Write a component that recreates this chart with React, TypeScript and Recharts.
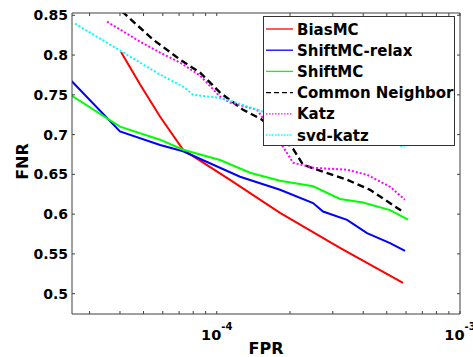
import React from 'react';
import { LineChart, Line, XAxis, YAxis, Legend } from 'recharts';

// ---- axes ----
const xDomain = [2.54e-5, 1e-3];
const yDomain = [0.4744, 0.8529];
const xMajorTicks = [1e-4, 1e-3];
const xMajorExponents = ['-4', '-3'];
const xAllTicks = [3e-5, 4e-5, 5e-5, 6e-5, 7e-5, 8e-5, 9e-5, 1e-4, 2e-4, 3e-4, 4e-4, 5e-4, 6e-4, 7e-4, 8e-4, 9e-4, 1e-3];
const yTicks = [0.5, 0.55, 0.6, 0.65, 0.7, 0.75, 0.8, 0.85];
const yTickLabels = ['0.5', '0.55', '0.6', '0.65', '0.7', '0.75', '0.8', '0.85'];
const xLabel = 'FPR';
const yLabel = 'FNR';

// ---- series (x = FPR, y = FNR) ----
const biasMC = [
  { x: 4.04e-5, y: 0.804 }, { x: 4.84e-5, y: 0.763 }, { x: 5.85e-5, y: 0.7225 },
  { x: 7.27e-5, y: 0.681 }, { x: 1.134e-4, y: 0.643 }, { x: 1.82e-4, y: 0.6016 },
  { x: 3.21e-4, y: 0.5576 }, { x: 5.83e-4, y: 0.5135 },
];
const shiftMCRelax = [
  { x: 2.5e-5, y: 0.769 }, { x: 4.0e-5, y: 0.704 }, { x: 5.85e-5, y: 0.687 },
  { x: 7.27e-5, y: 0.679 }, { x: 1.247e-4, y: 0.647 }, { x: 1.82e-4, y: 0.6306 },
  { x: 2.488e-4, y: 0.6139 }, { x: 2.735e-4, y: 0.6033 }, { x: 3.433e-4, y: 0.5928 },
  { x: 4.148e-4, y: 0.5761 }, { x: 5.158e-4, y: 0.5635 }, { x: 5.943e-4, y: 0.5538 },
];
const shiftMC = [
  { x: 2.5e-5, y: 0.75 }, { x: 4.0e-5, y: 0.71 }, { x: 5.85e-5, y: 0.6936 },
  { x: 7.27e-5, y: 0.681 }, { x: 1.032e-4, y: 0.668 }, { x: 1.37e-4, y: 0.652 },
  { x: 1.82e-4, y: 0.642 }, { x: 2.488e-4, y: 0.635 }, { x: 3.213e-4, y: 0.619 },
  { x: 3.99e-4, y: 0.6147 }, { x: 5.158e-4, y: 0.605 }, { x: 6.113e-4, y: 0.593 },
];
const commonNeighbor = [
  { x: 4.08e-5, y: 0.8548 }, { x: 5.47e-5, y: 0.8195 }, { x: 7.07e-5, y: 0.7943 },
  { x: 8.54e-5, y: 0.7779 }, { x: 1.032e-4, y: 0.7528 }, { x: 1.282e-4, y: 0.7313 },
  { x: 1.535e-4, y: 0.7188 }, { x: 2.059e-4, y: 0.6822 }, { x: 2.263e-4, y: 0.6621 },
  { x: 2.735e-4, y: 0.6533 }, { x: 3.433e-4, y: 0.6432 }, { x: 4.267e-4, y: 0.6306 },
  { x: 5.833e-4, y: 0.6029 },
];
const katz = [
  { x: 3.54e-5, y: 0.842 }, { x: 4.84e-5, y: 0.8168 }, { x: 5.85e-5, y: 0.8031 },
  { x: 7.07e-5, y: 0.7905 }, { x: 8.54e-5, y: 0.7742 }, { x: 1.032e-4, y: 0.7477 },
  { x: 1.134e-4, y: 0.7402 }, { x: 1.464e-4, y: 0.7313 }, { x: 1.873e-4, y: 0.6848 },
  { x: 2.059e-4, y: 0.6646 }, { x: 2.488e-4, y: 0.6583 }, { x: 3.433e-4, y: 0.6558 },
  { x: 4.148e-4, y: 0.6495 }, { x: 5.158e-4, y: 0.6344 }, { x: 5.943e-4, y: 0.618 },
];
const svdKatz = [
  { x: 2.616e-5, y: 0.8395 }, { x: 5.85e-5, y: 0.7754 }, { x: 7.27e-5, y: 0.7603 },
  { x: 7.99e-5, y: 0.7502 }, { x: 1.003e-4, y: 0.7465 }, { x: 1.167e-4, y: 0.7414 },
  { x: 1.464e-4, y: 0.7313 }, { x: 2.2e-4, y: 0.7125 }, { x: 3.53e-4, y: 0.7 },
  { x: 5.943e-4, y: 0.6848 },
];

const seriesNames = ['BiasMC', 'ShiftMC-relax', 'ShiftMC', 'Common Neighbor', 'Katz', 'svd-katz'];
const seriesData = [biasMC, shiftMCRelax, shiftMC, commonNeighbor, katz, svdKatz];
const seriesColors = ['#ff0000', '#0000ff', '#00ff00', '#000000', '#ff00ff', '#00ffff'];
const seriesDash = [undefined, undefined, undefined, '7 4', '2 2', '2 2'];
const legendDash = [undefined, undefined, undefined, '5 3', '1.5 1.5', '1.5 1.5'];

const FONT = 'DejaVu Sans, Verdana, sans-serif';
const AXIS_COLOR = '#404040';

const fmtY = (v: number) => {
  const i = yTicks.findIndex((t) => Math.abs(t - v) < 1e-9);
  return i >= 0 ? yTickLabels[i] : '';
};

const BottomTick = (props: any) => {
  const { x, y, payload } = props;
  const i = xMajorTicks.findIndex((t) => Math.abs(Math.log10(t) - Math.log10(payload.value)) < 1e-6);
  if (i < 0) return <g />;
  return (
    <text x={x} y={y + 26} textAnchor="middle" fontFamily={FONT} fontWeight="bold" fontSize={14.5} fill="#000">
      <tspan>10</tspan>
      <tspan dy={-10} fontSize={10}>{xMajorExponents[i]}</tspan>
    </text>
  );
};

const EmptyTick = () => <g />;

const LegendBox = () => (
  <div
    style={{
      width: 192,
      height: 130,
      boxSizing: 'border-box',
      border: '1px solid #333',
      background: '#fff',
    }}
  >
    <svg width={190} height={128} style={{ display: 'block' }}>
      {seriesNames.map((name, i) => {
        const cy = 12 + i * 21.2;
        return (
          <g key={name}>
            <line
              x1={2}
              x2={29}
              y1={cy}
              y2={cy}
              stroke={seriesColors[i]}
              strokeWidth={1.3}
              strokeDasharray={legendDash[i]}
            />
            <text x={33} y={cy + 5.5} fontFamily={FONT} fontWeight="bold" fontSize={15} fill="#000">
              {name}
            </text>
          </g>
        );
      })}
    </svg>
  </div>
);

export default function App() {
  return (
    <div style={{ position: 'absolute', left: 0, top: 0, width: 473, height: 357, background: '#fff', fontFamily: FONT }}>
      <LineChart width={473} height={357} margin={{ top: 0, right: 0, bottom: 0, left: 0 }}>
        <XAxis
          xAxisId="b"
          dataKey="x"
          type="number"
          scale="log"
          domain={xDomain}
          allowDataOverflow
          ticks={xAllTicks}
          interval={0}
          height={43}
          tickSize={-3}
          tickMargin={3}
          tick={BottomTick}
          axisLine={{ stroke: AXIS_COLOR }}
          tickLine={{ stroke: AXIS_COLOR }}
          label={{
            content: (p: any) => {
              const vb = p.viewBox || {};
              return (
                <text x={vb.x + vb.width / 2} y={vb.y + 40} textAnchor="middle" fontFamily={FONT} fontWeight="bold" fontSize={16} fill="#000">
                  {xLabel}
                </text>
              );
            },
          }}
        />
        <XAxis
          xAxisId="t"
          orientation="top"
          dataKey="x"
          type="number"
          scale="log"
          domain={xDomain}
          allowDataOverflow
          ticks={xAllTicks}
          interval={0}
          height={13}
          tickSize={-3}
          tick={EmptyTick}
          axisLine={{ stroke: AXIS_COLOR }}
          tickLine={{ stroke: AXIS_COLOR }}
        />
        <YAxis
          yAxisId="l"
          type="number"
          domain={yDomain}
          allowDataOverflow
          ticks={yTicks}
          interval={0}
          width={72}
          tickSize={-3}
          tickMargin={7}
          tickFormatter={fmtY}
          tick={{ fontSize: 14, fontWeight: 'bold', fill: '#000', fontFamily: FONT }}
          axisLine={{ stroke: AXIS_COLOR }}
          tickLine={{ stroke: AXIS_COLOR }}
          label={{
            content: (p: any) => {
              const vb = p.viewBox || {};
              const cx = vb.x + 28;
              const cy = vb.y + vb.height / 2 - 2;
              return (
                <text x={cx} y={cy} transform={`rotate(-90 ${cx} ${cy})`} textAnchor="middle" fontFamily={FONT} fontWeight="bold" fontSize={16} fill="#000">
                  {yLabel}
                </text>
              );
            },
          }}
        />
        <YAxis
          yAxisId="r"
          orientation="right"
          type="number"
          domain={yDomain}
          allowDataOverflow
          ticks={yTicks}
          interval={0}
          width={13}
          tickSize={-3}
          tick={EmptyTick}
          axisLine={{ stroke: AXIS_COLOR }}
          tickLine={{ stroke: AXIS_COLOR }}
        />
        {seriesNames.map((name, i) => (
          <Line
            key={name}
            name={name}
            xAxisId="b"
            yAxisId="l"
            data={seriesData[i]}
            dataKey="y"
            type="linear"
            stroke={seriesColors[i]}
            strokeWidth={i === 3 ? 2.4 : 2}
            strokeDasharray={seriesDash[i]}
            dot={false}
            activeDot={false}
            isAnimationActive={false}
          />
        ))}
        <Legend
          layout="vertical"
          align="center"
          verticalAlign="middle"
          width={192}
          height={130}
          content={LegendBox}
          wrapperStyle={{ left: 263, top: 16, width: 192, height: 130 }}
        />
      </LineChart>
    </div>
  );
}
